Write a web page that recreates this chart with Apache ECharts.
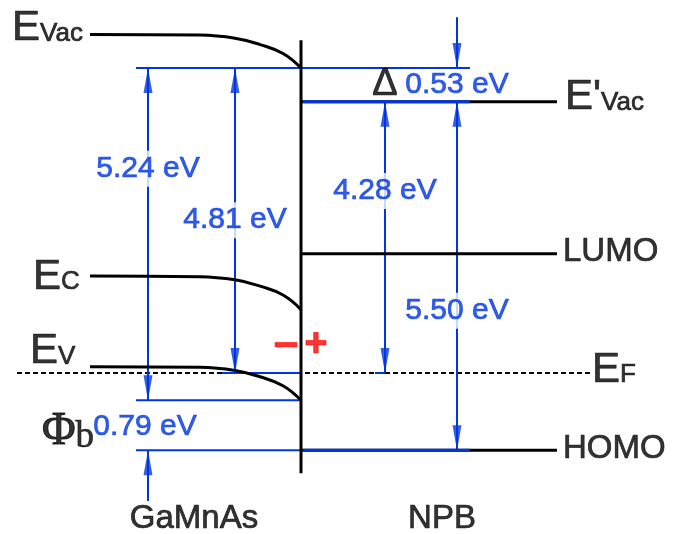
<!DOCTYPE html>
<html><head><meta charset="utf-8">
<script src="https://cdn.jsdelivr.net/npm/echarts@6/dist/echarts.min.js"></script>
<style>html,body{margin:0;padding:0;background:#fff}#c{width:678px;height:534px}</style>
</head><body><div id="c"></div>
<script>
// ---------------- data (energies in eV, relative to the Fermi level EF = 0) ----------------
// GaMnAs band bending, sampled along the position axis toward the interface
const bendPos    = [90, 200, 235, 260, 283, 301];
const eVacGaMnAs = [5.34, 5.33, 5.28, 5.18, 5.04, 4.81];
const eCGaMnAs   = [1.53, 1.52, 1.47, 1.37, 1.23, 1.00];
const eVGaMnAs   = [0.10, 0.09, 0.04, -0.06, -0.20, -0.43];
// NPB levels
const npbLevelNames  = ["E'Vac", 'LUMO', 'HOMO'];
const npbLevelValues = [4.28, 1.88, -1.22];
const eF = 0;
// energy gaps (arrows): label, upper level, lower level
const gapLabels = ['5.24 eV', '4.81 eV', '4.28 eV', '5.50 eV', '0.53 eV', '0.79 eV'];
const gapTop    = [4.81, 4.81, 4.28, 4.28, 4.81, -0.43];
const gapBottom = [-0.43, 0, 0, -1.22, 4.28, -1.22];
const materials = ['GaMnAs', 'NPB'];

// ---------------- layout / style ----------------
const PX_PER_EV = 63.4, EF_PIX = 373, H = 534;
const yMax = EF_PIX / PX_PER_EV, yMin = -(H - EF_PIX) / PX_PER_EV;
const BLUE = '#0036e0', BLACK = '#000', RED = '#ff0000';
const FONT = '"Liberation Sans", Arial, sans-serif';
const SERIF = '"Liberation Serif", "Times New Roman", serif';
const X_IF = 301, X_BULK = 90, X_REF = 136, X_NPB0 = 303, X_BLUE_END = 470, X_NPB_END = 557;
const arrowX = [148, 235, 385, 457, 457, 148];
const gapLabelY = [3.22, 2.41, 2.87, 0.98];
const TAIL = 0.8;
const AH = [9, 25];

const series = [];
function seg(pts, color, width, z, extra) {
  series.push(Object.assign({
    type: 'line', data: pts, showSymbol: false, symbol: 'none', silent: true, z: z,
    lineStyle: { color: color, width: width, cap: 'butt' }, animation: false
  }, extra || {}));
}
const heads = [];
function head(x, y, up) {
  heads.push({ value: [x, y], symbolRotate: up ? 0 : 180, symbolOffset: [0, up ? AH[1] / 2 : -AH[1] / 2] });
}

// dashed Fermi level
seg([[17, eF], [590, eF]], BLACK, 2, 2, { lineStyle: { color: BLACK, width: 2, type: [5, 3] } });
// blue reference lines
seg([[X_REF, gapTop[0]], [X_BLUE_END, gapTop[0]]], BLUE, 2, 3);
seg([[X_REF, gapBottom[0]], [X_IF - 2, gapBottom[0]]], BLUE, 2, 3);
seg([[X_REF, gapBottom[3]], [X_BLUE_END, gapBottom[3]]], BLUE, 2, 3);
seg([[222, eF], [X_IF, eF]], BLUE, 2, 3);
seg([[375, eF], [arrowX[2], eF]], BLUE, 2, 3);
// GaMnAs bands
[eVacGaMnAs, eCGaMnAs, eVGaMnAs].forEach(arr => {
  seg(bendPos.map((x, i) => [x, arr[i]]), BLACK, 3, 5, { smooth: 0.45 });
});
// NPB levels
npbLevelValues.forEach(v => seg([[X_IF, v], [X_NPB_END, v]], BLACK, 3, 5));
seg([[X_NPB0, npbLevelValues[0]], [X_BLUE_END, npbLevelValues[0]]], BLUE, 3, 6);
seg([[X_NPB0, npbLevelValues[2]], [X_BLUE_END, npbLevelValues[2]]], BLUE, 3, 6);
// interface
seg([[X_IF, eVacGaMnAs[5] + 0.44], [X_IF, npbLevelValues[2] - 0.36]], BLACK, 3, 7);

// arrows
for (let i = 0; i < 4; i++) {
  seg([[arrowX[i], gapTop[i]], [arrowX[i], gapBottom[i]]], BLUE, 2, 4);
  head(arrowX[i], gapTop[i], true);
  head(arrowX[i], gapBottom[i], false);
}
seg([[arrowX[4], gapTop[4] + TAIL], [arrowX[4], gapTop[4]]], BLUE, 2, 4);
head(arrowX[4], gapTop[4], false);
seg([[arrowX[5], gapBottom[5] - TAIL], [arrowX[5], gapBottom[5]]], BLUE, 2, 4);
head(arrowX[5], gapBottom[5], true);
series.push({
  type: 'scatter', data: heads, symbol: 'triangle', symbolSize: AH, silent: true, z: 8,
  itemStyle: { color: BLUE }, animation: false
});

// text (a thin same-colour outline gives the heavier stroke of the original)
function ink(c, w) { return { color: c, textBorderColor: c, textBorderWidth: w === undefined ? 0.7 : w }; }
const sub = { a: Object.assign({ fontSize: 42, fontFamily: FONT, verticalAlign: 'bottom' }, ink(BLACK)),
              b: Object.assign({ fontSize: 26, fontFamily: FONT, verticalAlign: 'bottom', padding: [0, 0, 3, 0] }, ink(BLACK)) };
function lbl(x, y, text, opt) {
  const c = (opt && opt.color) || BLACK;
  return { value: [x, y], label: Object.assign({ show: true, formatter: text, distance: 0,
           fontFamily: FONT }, ink(c), opt) };
}
const texts = [];
texts.push(lbl(12, eVacGaMnAs[0], '{a|E}{b|Vac}', { position: 'right', offset: [0, -6], rich: sub }));
texts.push(lbl(33, eCGaMnAs[0], '{a|E}{b|C}', { position: 'right', offset: [0, 1], rich: sub }));
texts.push(lbl(30, eVGaMnAs[0], '{a|E}{b|V}', { position: 'right', offset: [0, -15], rich: sub }));
texts.push(lbl(565, npbLevelValues[0], "{a|E'}{b|Vac}", { position: 'right', offset: [0, -4], rich: sub }));
texts.push(lbl(563, npbLevelValues[1], npbLevelNames[1], { position: 'right', offset: [0, -2], fontSize: 33 }));
texts.push(lbl(563, npbLevelValues[2], npbLevelNames[2], { position: 'right', offset: [0, -1], fontSize: 33 }));
texts.push(lbl(592, eF, '{a|E}{b|F}', { position: 'right', offset: [0, -3], rich: sub }));
texts.push(lbl(194, -2.30, materials[0], { position: 'inside', fontSize: 33 }));
texts.push(lbl(442, -2.30, materials[1], { position: 'inside', fontSize: 33 }));
for (let i = 0; i < 4; i++) {
  texts.push(lbl(arrowX[i], gapLabelY[i], gapLabels[i], { position: 'inside', fontSize: 30, color: BLUE,
    backgroundColor: '#fff', padding: [3, 1] }));
}
texts.push(lbl(arrowX[4], (gapTop[4] + gapBottom[4]) / 2, gapLabels[4], { position: 'inside', fontSize: 30, color: BLUE }));
texts.push(lbl(arrowX[2], (gapTop[4] + gapBottom[4]) / 2, 'Δ', { position: 'inside', fontSize: 38 }));
texts.push(lbl(arrowX[5], (gapTop[5] + gapBottom[5]) / 2, gapLabels[5], { position: 'inside', fontSize: 30, color: BLUE, offset: [-3, 1] }));
texts.push(lbl(42, (gapTop[5] + gapBottom[5]) / 2, '{p|Φ}{q|b}', { position: 'right', offset: [0, 7], rich: {
  p: Object.assign({ fontSize: 46, fontFamily: SERIF, verticalAlign: 'bottom' }, ink(BLACK, 1)),
  q: Object.assign({ fontSize: 37, fontFamily: SERIF, verticalAlign: 'bottom' }, ink(BLACK)) } }));
texts.push(lbl(X_IF, 0.44, '–', { position: 'inside', fontSize: 44, fontWeight: 'bold', color: RED, offset: [-15, 0] }));
texts.push(lbl(X_IF, 0.44, '+', { position: 'inside', fontSize: 40, fontWeight: 'bold', color: RED, offset: [15, 0] }));
series.push({ type: 'scatter', data: texts, symbolSize: 0, silent: true, z: 30, animation: false });

const chart = echarts.init(document.getElementById('c'));
chart.setOption({
  animation: false,
  backgroundColor: '#fff',
  grid: { left: 0, right: 0, top: 0, bottom: 0 },
  xAxis: { type: 'value', min: 0, max: 678, show: false },
  yAxis: { type: 'value', min: yMin, max: yMax, show: false },
  series: series
});
</script></body></html>
